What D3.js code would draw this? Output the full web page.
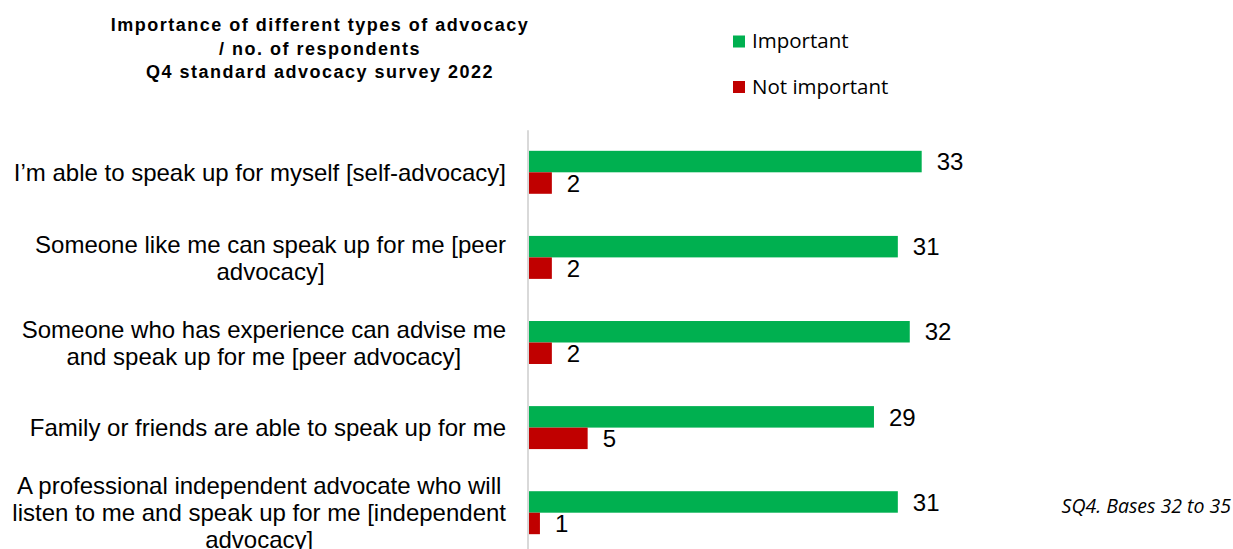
<!DOCTYPE html>
<html>
<head>
<meta charset="utf-8">
<script src="https://cdn.jsdelivr.net/npm/d3@7"></script>
<style>
  html, body { margin: 0; padding: 0; background: #fff; }
  svg { display: block; }
</style>
</head>
<body>
<svg id="chart" width="1233" height="549"></svg>
<script>
// Survey categories (line breaks mark where each label wraps)
const categories = [
  "I’m able to speak up for myself [self-advocacy]",
  "Someone like me can speak up for me [peer\nadvocacy]",
  "Someone who has experience can advise me\nand speak up for me [peer advocacy]",
  "Family or friends are able to speak up for me",
  "A professional independent advocate who will\nlisten to me and speak up for me [independent\nadvocacy]"
];
const important = [33, 31, 32, 29, 31];
const notImportant = [2, 2, 2, 5, 1];
const seriesNames = ["Important", "Not important"];
const titleLines = [
  "Importance of different types of advocacy",
  "/ no. of respondents",
  "Q4 standard advocacy survey 2022"
];
const footnote = "SQ4. Bases 32 to 35";

const colors = { "Important": "#00B050", "Not important": "#C00000" };
const rows = categories.map((c, i) => ({
  category: c,
  values: [
    { series: seriesNames[0], value: important[i] },
    { series: seriesNames[1], value: notImportant[i] }
  ]
}));

const svg = d3.select("#chart");
const labelFont = "'Liberation Sans', Arial, sans-serif";
const sideFont = "'Open Sans', sans-serif";
const labelSize = 24;

// Scales
const x = d3.scaleLinear().domain([0, 35]).range([528, 528 + 35 * 11.93]);
const y = d3.scaleBand().domain(categories).range([129.75, 555.25])
  .paddingInner(0.495).paddingOuter(0.2475);
const ySub = d3.scaleBand().domain(seriesNames).range([0, y.bandwidth()]).padding(0);

// Bars
const groups = svg.append("g").selectAll("g")
  .data(rows).join("g")
  .attr("transform", d => `translate(0,${y(d.category)})`);

groups.selectAll("rect")
  .data(d => d.values).join("rect")
  .attr("x", x(0))
  .attr("y", d => ySub(d.series))
  .attr("width", d => x(d.value) - x(0))
  .attr("height", ySub.bandwidth())
  .attr("fill", d => colors[d.series]);

groups.selectAll("text.val")
  .data(d => d.values).join("text")
  .attr("class", "val")
  .attr("x", d => x(d.value) + 15)
  .attr("y", d => ySub(d.series) + ySub.bandwidth() / 2)
  .attr("dy", "0.36em")
  .attr("font-family", labelFont)
  .attr("font-size", labelSize)
  .attr("fill", "#000")
  .text(d => d.value);

// Category axis: vertical line only
const axis = svg.append("g")
  .attr("transform", `translate(${x(0) - 0.5},0)`)
  .call(d3.axisLeft(y).tickSize(0).tickFormat(""));
axis.select(".domain").attr("stroke", "#d9d9d9").attr("stroke-width", 2);

// Category labels: centred lines, block right-aligned to the axis
const labelRight = 506;
const lineH = 27;
categories.forEach(cat => {
  const lines = cat.split("\n");
  const cy = y(cat) + y.bandwidth() / 2;
  const g = svg.append("g");
  const texts = g.selectAll("text").data(lines).join("text")
    .attr("font-family", labelFont)
    .attr("font-size", labelSize)
    .attr("fill", "#000")
    .attr("text-anchor", "middle")
    .attr("y", (d, i) => cy + (i - (lines.length - 1) / 2) * lineH)
    .attr("dy", "0.36em")
    .text(d => d);
  let maxW = 0;
  texts.each(function () { maxW = Math.max(maxW, this.getComputedTextLength()); });
  texts.attr("x", labelRight - maxW / 2);
});

// Title
svg.append("g").selectAll("text")
  .data(titleLines).join("text")
  .attr("x", 320)
  .attr("y", (d, i) => 31 + i * 23.5)
  .attr("text-anchor", "middle")
  .attr("font-family", labelFont)
  .attr("font-weight", "bold")
  .attr("font-size", 18)
  .attr("letter-spacing", 1.5)
  .attr("fill", "#000")
  .text(d => d);

// Legend
const legend = svg.append("g").selectAll("g")
  .data(seriesNames).join("g")
  .attr("transform", (d, i) => `translate(733,${35.5 + i * 45.5})`);
legend.append("rect")
  .attr("width", 12).attr("height", 12)
  .attr("fill", d => colors[d]);
legend.append("text")
  .attr("x", 19).attr("y", 12.5)
  .attr("font-family", sideFont)
  .attr("font-size", 20.5)
  .attr("font-weight", 500)
  .attr("fill", "#000")
  .text(d => d);

// Footnote
svg.append("text")
  .attr("x", 1231).attr("y", 513)
  .attr("text-anchor", "end")
  .attr("font-family", sideFont)
  .attr("font-style", "italic")
  .attr("font-size", 19.5)
  .attr("fill", "#000")
  .text(footnote);
</script>
</body>
</html>
